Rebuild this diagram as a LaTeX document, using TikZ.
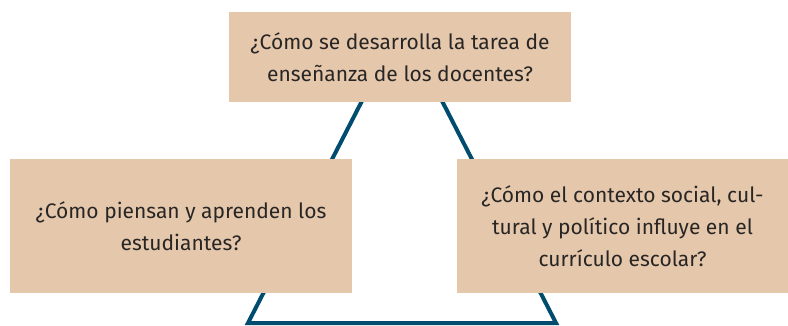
\documentclass[tikz,border=0pt]{standalone}
\usepackage{fontspec}
\setmainfont{Fira Sans}
\definecolor{boxfill}{RGB}{229,199,172}
\definecolor{lineblue}{RGB}{0,76,110}
\definecolor{textgray}{RGB}{40,38,36}
\begin{document}
\begin{tikzpicture}[x=1pt,y=-1pt,
  qbox/.style={fill=boxfill,text=textgray,align=center,inner sep=0pt,
    font=\fontsize{21}{32}\selectfont}]
\useasboundingbox (0,0) rectangle (788,326);
% triangle behind the boxes
\coordinate (apex) at (402,23);
\coordinate (baseL) at (248,323);
\coordinate (baseR) at (556,323);
\draw[lineblue,line width=4pt,line join=miter] (apex) -- (baseL) -- (baseR) -- cycle;
% question boxes
\node[qbox,minimum width=342pt,minimum height=90pt] (docentes) at (400,57) {¿Cómo se desarrolla la tarea de\\enseñanza de los docentes?};
\node[qbox,minimum width=342pt,minimum height=134pt] (estudiantes) at (181,226) {¿Cómo piensan y aprenden los\\estudiantes?};
\node[qbox,minimum width=331pt,minimum height=134pt] (contexto) at (622.5,226) {¿Cómo el contexto social, cul-\\tural y político influye en el\\currículo escolar?};
\end{tikzpicture}
\end{document}
